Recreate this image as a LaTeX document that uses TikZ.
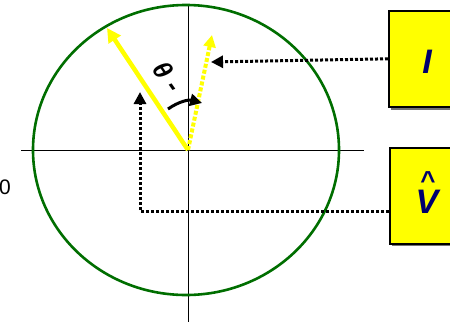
\documentclass[tikz,border=0pt]{standalone}
\usepackage{fontspec}
\setsansfont{Liberation Sans}
\usetikzlibrary{arrows.meta, positioning, calc}
\definecolor{PhasorGreen}{RGB}{0, 110, 0}
\definecolor{PhasorYellow}{RGB}{255, 255, 0}
\definecolor{LabelNavy}{RGB}{0, 0, 110}

\begin{document}
\begin{tikzpicture}[x=1pt, y=-1pt,
            axis/.style={black, line width=0.8pt},
            phasor/.style={PhasorYellow, line width=4.5pt, -{Triangle[length=14pt, width=14pt]}},
            pointer/.style={black, line width=3pt, dotted, line cap=butt, -{Triangle[length=12pt, width=12pt]}},
            quant/.style={draw=black, line width=1.6pt, fill=PhasorYellow, minimum width=80pt, minimum height=96pt, anchor=north west, inner sep=0pt},
            quantlabel/.style={font=\sffamily\bfseries\itshape\fontsize{34}{36}\selectfont, text=LabelNavy}
        ]
        \useasboundingbox (0,0) rectangle (450,322);

        % Axes and circle
        \coordinate (O) at (188,150);
        \draw[axis] (21,150) -- (364,150);
        \draw[axis] (188,5) -- (188,322);
        \draw[PhasorGreen, line width=2.6pt] (186,150) ellipse [x radius=153, y radius=145];
        \node[font=\sffamily\fontsize{21}{23}\selectfont, anchor=west, inner sep=0pt] (zero) at (-1,187) {0};

        % Phasors
        \coordinate (tipI) at (107,28);
        \coordinate (tipIdot) at (212,35);
        \draw[phasor] (O) -- (tipI);
        \draw[PhasorYellow, line width=4pt, dotted, line cap=butt, -{Triangle[length=12pt, width=12pt]}] (O) -- (tipIdot);

        % Angle
        \coordinate (angA) at (168,109);
        \coordinate (angB) at (202,103);
        \draw[black, line width=3pt, -{Triangle[length=12pt, width=12pt]}] (angA) to[bend left=25] (angB);
        \node[rotate=-55, inner sep=0pt, font=\sffamily\bfseries\itshape\fontsize{26}{28}\selectfont] (theta) at (168,77) {θ -};

        % Boxes
        \fill[black!55] (391,13) rectangle (470,110);
        \node[quant] (boxI) at (388,10) {};
        \node[quantlabel] (lblI) at (427,62) {I};
        \fill[black!55] (392,150) rectangle (470,246);
        \node[quant] (boxV) at (389,147) {};
        \node[quantlabel, inner sep=0pt] (lblV) at (427,202) {V};
        \node[font=\sffamily\bfseries\fontsize{26}{28}\selectfont, text=LabelNavy, inner sep=0pt] (hatV) at (428,181) {\textasciicircum};

        % Pointers
        \coordinate (tipV) at (140,92);
        \draw[pointer] (boxI.west) -- (211,62);
        \draw[pointer] (boxV.west |- 0,211) -| (tipV);

        \end{tikzpicture}
\end{document}
